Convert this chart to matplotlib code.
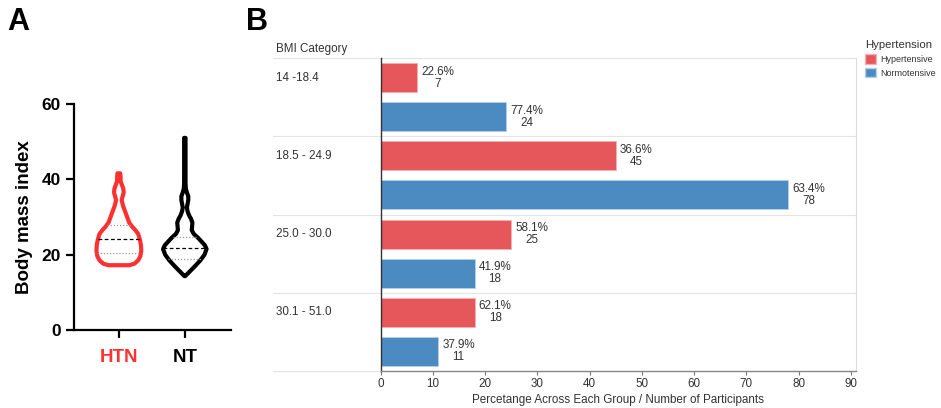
import numpy as np
import matplotlib.pyplot as plt
from matplotlib.patches import Patch

plt.rcParams['font.family'] = ['Liberation Sans', 'DejaVu Sans']

# --- Panel A: violin outlines (BMI level, relative half-width)
htn_bmi = [17.2, 17.6, 18.5, 19.5, 21, 22.5, 24, 25.5, 26.5, 27.5, 28.5, 30, 31.5, 33,
           34.5, 35.5, 36.5, 37.5, 38.5, 39.5, 40.5, 41.6]
htn_w = [30, 45, 56, 62, 65, 64, 61, 56, 48, 38, 30, 24, 18, 12, 8, 11, 14, 13, 9, 5, 5, 4]
nt_bmi = [14.3, 15.5, 17, 18.5, 20, 21.5, 22.5, 23.5, 24.5, 25.5, 26.5, 27.5, 28.5, 29.5,
          30.5, 31.5, 32.5, 33.5, 34.5, 35.5, 36.5, 37.5, 39, 45, 51]
nt_w = [1, 14, 30, 45, 57, 63, 58, 48, 38, 26, 20, 21, 22, 18, 12, 8, 6, 8, 10, 10, 6, 3, 2, 2, 2]
htn_quart = [20.4, 24.1, 27.9]
nt_quart = [18.8, 21.7, 24.8]
groups = ['HTN', 'NT']

# --- Panel B data
categories = ['14 -18.4', '18.5 - 24.9', '25.0 - 30.0', '30.1 - 51.0']
htn_n = [7, 45, 25, 18]
htn_pct = [22.6, 36.6, 58.1, 62.1]
nt_n = [24, 78, 18, 11]
nt_pct = [77.4, 63.4, 41.9, 37.9]

red = '#e6575b'
blue = '#4b8bc1'
txt = '#333333'
fs = 8.4

fig = plt.figure(figsize=(9.41, 4.08), dpi=100)

# ---------------- Panel A
axA = fig.add_axes([74/941, 1-330/408, (231-74)/941, (330-104)/408])
scale = 0.34 / 65
for pos, bmi, w, q, col in [(0, htn_bmi, htn_w, htn_quart, '#ff3030'),
                             (1, nt_bmi, nt_w, nt_quart, 'black')]:
    bmi = np.array(bmi, float)
    w = np.array(w, float) * scale
    xs = np.concatenate([pos + w, (pos - w)[::-1]])
    ys = np.concatenate([bmi, bmi[::-1]])
    axA.fill(xs, ys, facecolor='none', edgecolor=col, lw=3.0, joinstyle='round')
    for k, qv in enumerate(q):
        hw = np.interp(qv, bmi, w)
        if k == 1:
            axA.plot([pos - hw, pos + hw], [qv, qv], color='black', lw=0.9, ls=(0, (3, 2)))
        else:
            axA.plot([pos - hw, pos + hw], [qv, qv], color='#999999', lw=0.9, ls=(0, (1, 1.5)))

axA.set_xlim(-0.68, 1.70)
axA.set_ylim(0, 60)
axA.set_yticks([0, 20, 40, 60])
axA.set_xticks([0, 1])
axA.set_xticklabels(groups, fontsize=13.5, fontweight='bold')
axA.get_xticklabels()[0].set_color('#ff3030')
for t in axA.get_yticklabels():
    t.set_fontweight('bold')
    t.set_fontsize(12.5)
axA.set_ylabel('Body mass index', fontsize=13.5, fontweight='bold', labelpad=6)
for s in ['top', 'right']:
    axA.spines[s].set_visible(False)
for s in ['left', 'bottom']:
    axA.spines[s].set_linewidth(1.6)
axA.tick_params(width=1.6, length=6)
axA.tick_params(axis='x', pad=8)

fig.text(7/941, 1-22/408, 'A', fontsize=22, fontweight='bold', va='center')
fig.text(246/941, 1-22/408, 'B', fontsize=22, fontweight='bold', va='center')

# ---------------- Panel B
axB = fig.add_axes([380.5/941, 1-371/408, (856-380.5)/941, (371-58)/408])
g = np.arange(len(categories))
bh = 0.37
axB.barh(g + 0.25, htn_n, height=bh, color=red, edgecolor='#f5b0b2', lw=0.6)
axB.barh(g + 0.75, nt_n, height=bh, color=blue, edgecolor='#b5d0ea', lw=0.6)
for i in g:
    axB.text(htn_n[i] + 0.8, i + 0.25, f'{htn_pct[i]}%\n{htn_n[i]}', ha='left', va='center',
             multialignment='center', fontsize=fs, color=txt, linespacing=1.0)
    axB.text(nt_n[i] + 0.8, i + 0.75, f'{nt_pct[i]}%\n{nt_n[i]}', ha='left', va='center',
             multialignment='center', fontsize=fs, color=txt, linespacing=1.0)
    axB.text(-0.22, i + 0.25, categories[i], transform=axB.get_yaxis_transform(),
             ha='left', va='center', fontsize=fs, color=txt)

for yv in range(len(categories) + 1):
    axB.axhline(yv, xmin=-0.227, xmax=1, color='#e4e4e4', lw=0.8, clip_on=False, zorder=0)
axB.text(-0.22, -0.11, 'BMI Category', transform=axB.get_yaxis_transform(),
         ha='left', va='center', fontsize=fs, color=txt)

axB.set_xlim(0, 91)
axB.set_ylim(len(categories), 0)
axB.set_yticks([])
axB.set_xticks(range(0, 100, 10))
axB.tick_params(axis='x', labelsize=fs, labelcolor=txt, length=3, color='#777777', pad=2)
axB.set_xlabel('Percetange Across Each Group / Number of Participants', fontsize=fs,
               color=txt, labelpad=3)
axB.spines['top'].set_visible(False)
axB.spines['right'].set_color('#dddddd')
axB.spines['right'].set_linewidth(0.8)
axB.spines['left'].set_color('#333333')
axB.spines['left'].set_linewidth(1.0)
axB.spines['bottom'].set_color('#888888')
axB.spines['bottom'].set_linewidth(1.0)

handles = [Patch(facecolor=red, edgecolor='#f5b0b2'), Patch(facecolor=blue, edgecolor='#b5d0ea')]
leg = fig.legend(handles, ['Hypertensive', 'Normotensive'], title='Hypertension',
                 loc='upper left', bbox_to_anchor=(865/941, 1-40/408), frameon=False,
                 fontsize=6.5, title_fontsize=8.2, handlelength=1.25, handleheight=1.25,
                 handletextpad=0.4, labelspacing=0.45, borderpad=0, borderaxespad=0)
leg._legend_box.align = 'left'
for t in leg.get_texts():
    t.set_color(txt)
leg.get_title().set_color(txt)

fig.savefig('out.png', dpi=100)
